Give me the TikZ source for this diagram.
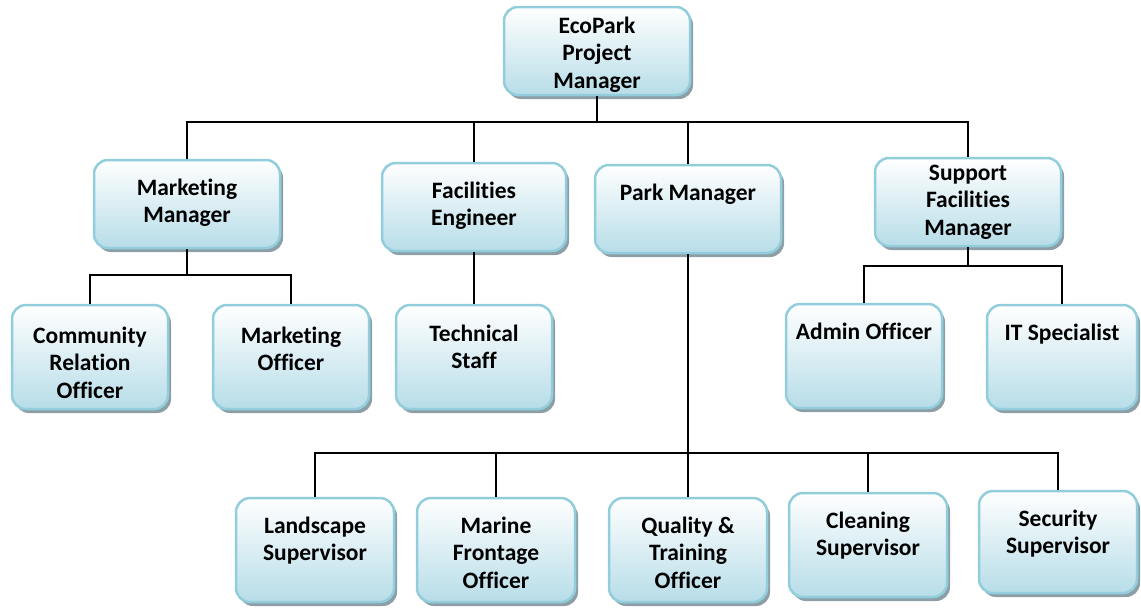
\documentclass[tikz,border=0pt]{standalone}
\usepackage{fontspec}
\setmainfont{Carlito}[Ligatures=NoCommon]
\usetikzlibrary{shadows}

\definecolor{boxline}{RGB}{146,205,220}
\definecolor{boxfill}{RGB}{183,221,232}
\definecolor{boxshadow}{RGB}{140,158,166}

% text set at the top of a box: width, height, first baseline, lines
\newcommand{\orgtext}[4]{\parbox[c][#2][t]{#1}{\centering\rule{0pt}{#3}#4}}

\tikzset{
    orgbox/.style={draw=boxline, line width=2.5pt, rounded corners=14pt,
        top color=white, bottom color=boxfill, inner sep=0pt,
        font=\fontsize{23.5}{27.5}\selectfont\bfseries,
        drop shadow={shadow xshift=3pt, shadow yshift=-4pt, fill=boxshadow, opacity=1}},
    link/.style={draw=black, line width=2.5pt}
}

\begin{document}
\begin{tikzpicture}[x=1pt, y=-1pt]
    \useasboundingbox (0,0) rectangle (1141,608);

    % Project manager
    \node[orgbox] (eco) at (597,51) {\orgtext{186pt}{88pt}{26pt}{EcoPark\\Project\\Manager}};

    % Managers
    \node[orgbox] (mm) at (187,204) {\orgtext{186pt}{88pt}{35pt}{Marketing\\Manager}};
    \node[orgbox] (fe) at (474,207) {\orgtext{184pt}{88pt}{35pt}{Facilities\\Engineer}};
    \node[orgbox] (pm) at (688,209) {\orgtext{186pt}{88pt}{35pt}{Park Manager}};
    \node[orgbox] (sfm) at (968,202) {\orgtext{186pt}{88pt}{22pt}{Support\\Facilities\\Manager}};

    % Staff under the managers
    \node[orgbox] (cro) at (90,357) {\orgtext{156pt}{104pt}{38pt}{Community\\Relation\\Officer}};
    \node[orgbox] (mo) at (291,357) {\orgtext{156pt}{104pt}{38pt}{Marketing\\Officer}};
    \node[orgbox] (ts) at (474,357) {\orgtext{156pt}{104pt}{36pt}{Technical\\Staff}};
    \node[orgbox] (adm) at (864,356) {\orgtext{156pt}{104pt}{35pt}{Admin Officer}};
    \node[orgbox] (its) at (1062,357) {\orgtext{150pt}{104pt}{35pt}{IT Specialist}};

    % Park staff
    \node[orgbox] (ls) at (315,550) {\orgtext{158pt}{104pt}{35pt}{Landscape\\Supervisor}};
    \node[orgbox] (mfo) at (496,550) {\orgtext{158pt}{104pt}{35pt}{Marine\\Frontage\\Officer}};
    \node[orgbox] (qto) at (688,550) {\orgtext{158pt}{104pt}{35pt}{Quality \&\\Training\\Officer}};
    \node[orgbox] (cs) at (868,545) {\orgtext{158pt}{104pt}{35pt}{Cleaning\\Supervisor}};
    \node[orgbox] (ss) at (1058,542) {\orgtext{158pt}{102pt}{35pt}{Security\\Supervisor}};

    % Connectors
    \coordinate (bus1) at (597,122);
    \coordinate (bus2) at (187,275);
    \coordinate (bus3) at (968,266);
    \coordinate (bus4) at (688,453);

    \draw[link] (eco.south) -- (bus1);
    \foreach \n in {mm, fe, pm, sfm}
        \draw[link] (\n.north) |- (bus1);

    \draw[link] (mm.south) -- (bus2);
    \foreach \n in {cro, mo}
        \draw[link] (\n.north) |- (bus2);

    \draw[link] (fe.south) -- (ts.north);

    \draw[link] (sfm.south) -- (bus3);
    \foreach \n in {adm, its}
        \draw[link] (\n.north) |- (bus3);

    \draw[link] (pm.south) -- (bus4);
    \foreach \n in {ls, mfo, qto, cs, ss}
        \draw[link] (\n.north) |- (bus4);
\end{tikzpicture}
\end{document}
